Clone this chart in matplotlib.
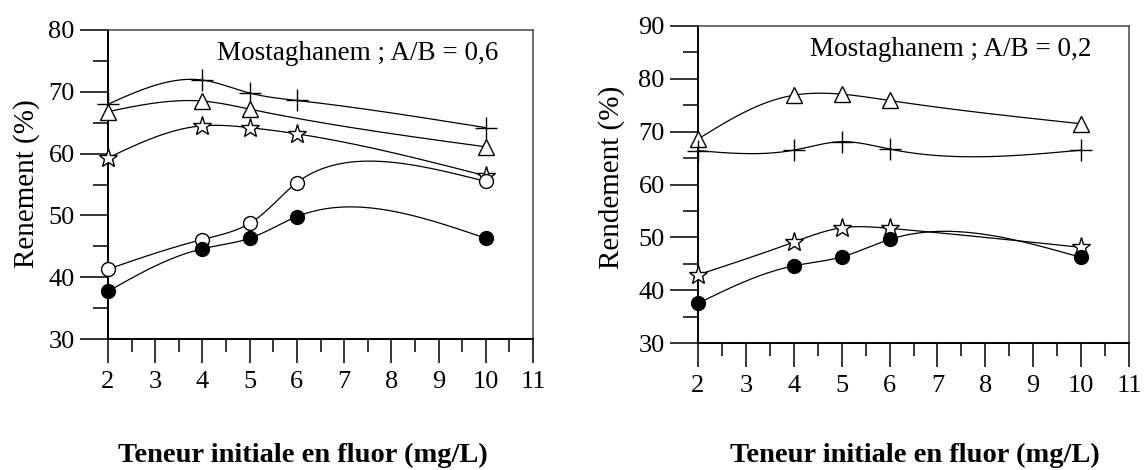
import matplotlib
matplotlib.use("Agg")
import matplotlib.pyplot as plt
import numpy as np
from matplotlib.ticker import MultipleLocator

plt.rcParams["font.family"] = ["Liberation Serif", "DejaVu Serif"]

# fluoride concentration (mg/L)
conc = [2, 4, 5, 6, 10]
conc_tri_left = [2, 4, 5, 10]

# left panel, A/B = 0,6
left_plus = [68.0, 71.9, 69.8, 68.6, 64.2]
left_tri = [66.8, 68.5, 67.2, 61.1]
left_star = [59.3, 64.5, 64.2, 63.2, 56.4]
left_open = [41.3, 46.1, 48.7, 55.3, 55.5]
left_filled = [37.7, 44.6, 46.3, 49.8, 46.3]

# right panel, A/B = 0,2
right_tri = [68.6, 76.9, 77.1, 75.9, 71.5]
right_plus = [66.4, 66.5, 68.1, 66.7, 66.5]
right_star = [42.9, 49.1, 51.8, 51.7, 48.1]
right_filled = [37.5, 44.6, 46.3, 49.6, 46.2]

xticks = list(range(2, 12))


def nat_coeffs(t, v):
    # second derivatives of a natural cubic spline
    k = len(t)
    h = np.diff(t)
    A = np.zeros((k, k))
    b = np.zeros(k)
    A[0, 0] = A[-1, -1] = 1.0
    for i in range(1, k - 1):
        A[i, i - 1] = h[i - 1]
        A[i, i] = 2 * (h[i - 1] + h[i])
        A[i, i + 1] = h[i]
        b[i] = 6 * ((v[i + 1] - v[i]) / h[i] - (v[i] - v[i - 1]) / h[i - 1])
    return np.linalg.solve(A, b)


def nat_eval(t, v, M, ts):
    k = len(t)
    idx = np.clip(np.searchsorted(t, ts) - 1, 0, k - 2)
    t0, t1 = t[idx], t[idx + 1]
    hh = t1 - t0
    a, c = t1 - ts, ts - t0
    return (M[idx] * a ** 3 + M[idx + 1] * c ** 3) / (6 * hh) \
        + (v[idx] / hh - M[idx] * hh / 6) * a \
        + (v[idx + 1] / hh - M[idx + 1] * hh / 6) * c


def smooth(ax, x, y, n=400):
    # parametric spline in screen space (chord length), like the original software
    pts = ax.transData.transform(np.column_stack([x, y]))
    px, py = pts[:, 0], pts[:, 1]
    t = np.concatenate([[0], np.cumsum(np.hypot(np.diff(px), np.diff(py)))])
    ts = np.linspace(0, t[-1], n)
    sx = nat_eval(t, px, nat_coeffs(t, px), ts)
    sy = nat_eval(t, py, nat_coeffs(t, py), ts)
    back = ax.transData.inverted().transform(np.column_stack([sx, sy]))
    return back[:, 0], back[:, 1]


def draw(ax, x, y, marker, ms, face):
    xs, ys = smooth(ax, x, y)
    ax.plot(xs, ys, color="black", lw=0.9, clip_on=False)
    ax.plot(x, y, ls="none", marker=marker, ms=ms, mfc=face, mec="black",
            mew=1.0, color="black", clip_on=False, zorder=3)


def style(ax, ymin, ymax):
    ax.set_xlim(2, 11)
    ax.set_ylim(ymin, ymax)
    ax.set_xticks(xticks)
    ax.xaxis.set_minor_locator(MultipleLocator(0.5))
    ax.yaxis.set_major_locator(MultipleLocator(10))
    ax.yaxis.set_minor_locator(MultipleLocator(5))
    ax.tick_params(axis="y", which="major", direction="out", length=20,
                   width=1.1, labelsize=19, pad=4)
    ax.tick_params(axis="y", which="minor", direction="out", length=11, width=1.1)
    ax.tick_params(axis="x", which="major", direction="out", length=17,
                   width=1.1, labelsize=19, pad=6)
    ax.tick_params(axis="x", which="minor", direction="out", length=9.5, width=1.1)
    for s in ["left", "bottom"]:
        ax.spines[s].set_linewidth(1.4)
    for s in ["top", "right"]:
        ax.spines[s].set_linewidth(1.1)
        ax.spines[s].set_color("#444444")


fig = plt.figure(figsize=(11.45, 4.7), dpi=100)
ax1 = fig.add_axes([108 / 1145, 1 - 339 / 470, 425 / 1145, 309 / 470])
ax2 = fig.add_axes([698 / 1145, 1 - 343 / 470, 431 / 1145, 317 / 470])
style(ax1, 30, 80)
style(ax2, 30, 90)

draw(ax1, conc, left_plus, "+", 16, "none")
draw(ax1, conc_tri_left, left_tri, "^", 12, "white")
draw(ax1, conc, left_star, "*", 14, "white")
draw(ax1, conc, left_open, "o", 10, "white")
draw(ax1, conc, left_filled, "o", 10, "black")
ax1.text(0.918, 0.925, "Mostaghanem ; A/B = 0,6", transform=ax1.transAxes,
         ha="right", va="center", fontsize=19.5)

draw(ax2, conc, right_tri, "^", 12, "white")
draw(ax2, conc, right_plus, "+", 16, "none")
draw(ax2, conc, right_star, "*", 14, "white")
draw(ax2, conc, right_filled, "o", 10, "black")
ax2.text(0.913, 0.925, "Mostaghanem ; A/B = 0,2", transform=ax2.transAxes,
         ha="right", va="center", fontsize=19.5)

fig.text(27 / 1145, 1 - 184 / 470, "Renement (%)", rotation=90,
         ha="center", va="center", fontsize=21)
fig.text(612 / 1145, 1 - 177 / 470, "Rendement (%)", rotation=90,
         ha="center", va="center", fontsize=21)

fig.text(303 / 1145, 1 - 455 / 470, "Teneur initiale en fluor (mg/L)",
         ha="center", va="center", fontsize=20.5, fontweight="bold")
fig.text(915 / 1145, 1 - 455 / 470, "Teneur initiale en fluor (mg/L)",
         ha="center", va="center", fontsize=20.5, fontweight="bold")

fig.savefig("out.png", dpi=100)
